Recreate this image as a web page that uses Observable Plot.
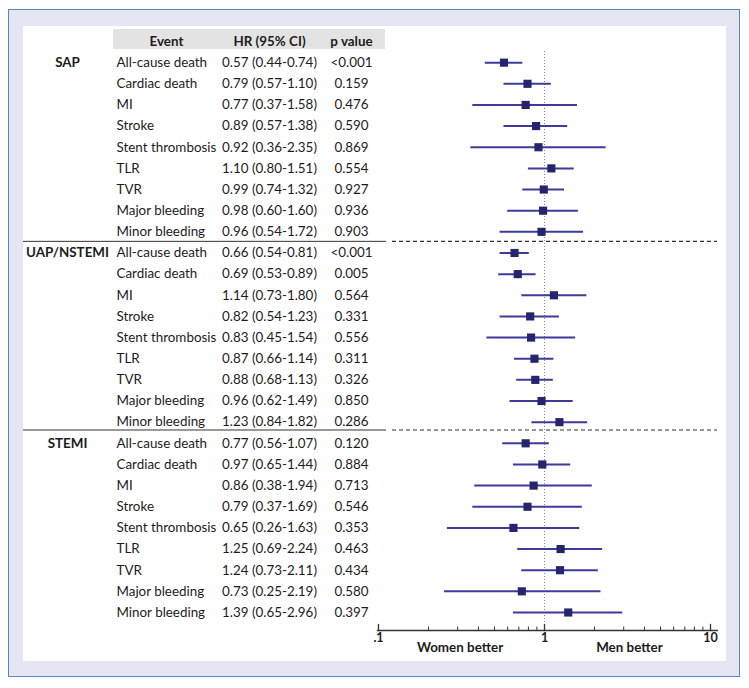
<!DOCTYPE html>
<html>
<head>
<meta charset="utf-8">
<script src="https://cdn.jsdelivr.net/npm/d3@7"></script>
<script src="https://cdn.jsdelivr.net/npm/@observablehq/plot@0.6"></script>
<style>
  body { margin: 0; background: #fff; }
  #wrap { position: relative; width: 749px; height: 688px; overflow: hidden; font-family: Lato, "Open Sans", sans-serif; }
  #outer { position: absolute; left: 8px; top: 9px; width: 730px; height: 666px; background: #e4e7f3; border: 1.5px solid #5a86c8; }
  #inner { position: absolute; left: 23px; top: 26px; width: 703px; height: 635px; background: #fff; }
  #head { position: absolute; left: 113px; top: 29px; width: 272px; height: 20px; background: #e3e3e3; }
  #wrap svg { position: absolute; left: 0; top: 0; }
</style>
</head>
<body>
<div id="wrap">
  <div id="outer"></div>
  <div id="inner"></div>
  <div id="head"></div>
</div>
<script>
const groups = ["SAP", "UAP/NSTEMI", "STEMI"];
const events = ["All-cause death", "Cardiac death", "MI", "Stroke", "Stent thrombosis", "TLR", "TVR", "Major bleeding", "Minor bleeding"];
const headers = ["Event", "HR (95% CI)", "p value"];

const hrSAP   = [0.57, 0.79, 0.77, 0.89, 0.92, 1.10, 0.99, 0.98, 0.96];
const lowSAP  = [0.44, 0.57, 0.37, 0.57, 0.36, 0.80, 0.74, 0.60, 0.54];
const highSAP = [0.74, 1.10, 1.58, 1.38, 2.35, 1.51, 1.32, 1.60, 1.72];
const pSAP    = ["<0.001", "0.159", "0.476", "0.590", "0.869", "0.554", "0.927", "0.936", "0.903"];

const hrUAP   = [0.66, 0.69, 1.14, 0.82, 0.83, 0.87, 0.88, 0.96, 1.23];
const lowUAP  = [0.54, 0.53, 0.73, 0.54, 0.45, 0.66, 0.68, 0.62, 0.84];
const highUAP = [0.81, 0.89, 1.80, 1.23, 1.54, 1.14, 1.13, 1.49, 1.82];
const pUAP    = ["<0.001", "0.005", "0.564", "0.331", "0.556", "0.311", "0.326", "0.850", "0.286"];

const hrSTEMI   = [0.77, 0.97, 0.86, 0.79, 0.65, 1.25, 1.24, 0.73, 1.39];
const lowSTEMI  = [0.56, 0.65, 0.38, 0.37, 0.26, 0.69, 0.73, 0.25, 0.65];
const highSTEMI = [1.07, 1.44, 1.94, 1.69, 1.63, 2.24, 2.11, 2.19, 2.96];
const pSTEMI    = ["0.120", "0.884", "0.713", "0.546", "0.353", "0.463", "0.434", "0.580", "0.397"];

const majorTicks = [0.1, 1, 10];
const minorTicks = [0.2, 0.3, 0.4, 0.5, 0.6, 0.7, 0.8, 0.9, 2, 3, 4, 5, 6, 7, 8, 9];
const sideLabels = ["Women better", "Men better"];

const series = [
  [hrSAP, lowSAP, highSAP, pSAP],
  [hrUAP, lowUAP, highUAP, pUAP],
  [hrSTEMI, lowSTEMI, highSTEMI, pSTEMI]
];
const rows = groups.flatMap((g, gi) => events.map((e, ei) => {
  const [hr, lo, hi, p] = series[gi];
  return {
    group: g, event: e, hr: hr[ei], lo: lo[ei], hi: hi[ei], p: p[ei],
    row: gi * events.length + ei, first: ei === 0,
    ci: `${hr[ei].toFixed(2)} (${lo[ei].toFixed(2)}-${hi[ei].toFixed(2)})`
  };
}));
const seps = [8.45, 17.37];

const font = "Lato, 'Open Sans', sans-serif";
const ink = "#1c1c1c";
const yScale = {domain: [-1, 26], range: [41, 612], axis: null};

// table columns: placed from the frame's left edge (layout, not data)
const col = {group: 67, event: 116, eventHead: 166, ci: 269, p: 351};
const headCols = [col.eventHead, col.ci, col.p];

const table = Plot.plot({
  width: 749, height: 688,
  marginLeft: 0, marginRight: 363, marginTop: 0, marginBottom: 0,
  y: yScale,
  style: {background: "transparent", fontFamily: font, fontSize: "13.4px", color: ink},
  marks: [
    ...headers.map((h, i) => Plot.text([h], {y: () => -1, text: d => d, frameAnchor: "left", dx: headCols[i], textAnchor: "middle", fontWeight: "bold", fill: ink})),
    Plot.text(rows.filter(d => d.first), {y: "row", text: "group", frameAnchor: "left", dx: col.group, textAnchor: "middle", fontWeight: "bold", fill: ink}),
    Plot.text(rows, {y: "row", text: "event", frameAnchor: "left", dx: col.event, textAnchor: "start", fill: ink}),
    Plot.text(rows, {y: "row", text: "ci", frameAnchor: "left", dx: col.ci, textAnchor: "middle", fill: ink}),
    Plot.text(rows, {y: "row", text: "p", frameAnchor: "left", dx: col.p, textAnchor: "middle", fill: ink}),
    Plot.ruleY(seps, {stroke: "#333", strokeWidth: 1, insetLeft: 23})
  ]
});

const tickShape = {draw(context, l) { context.moveTo(0, 0); context.lineTo(0, -l); }};

const forest = Plot.plot({
  width: 749, height: 688,
  marginLeft: 377, marginRight: 32, marginTop: 51, marginBottom: 58,
  x: {type: "log", domain: [0.1, 10], range: [378, 710], axis: null, label: null},
  y: yScale,
  style: {background: "transparent", fontFamily: font, fontSize: "12.5px", color: ink},
  marks: [
    Plot.ruleX([1], {stroke: "#8482b4", strokeWidth: 1, strokeDasharray: "1,2"}),
    Plot.ruleY(seps, {stroke: "#333", strokeWidth: 1.2, strokeDasharray: "4,3", insetLeft: 15}),
    Plot.ruleY(rows, {y: "row", x1: "lo", x2: "hi", stroke: "#3d3a9c", strokeWidth: 2}),
    Plot.dot(rows, {x: "hr", y: "row", symbol: "square", r: 4.6, fill: "#26236f", stroke: "none"}),
    Plot.frame({anchor: "bottom", stroke: "#333", strokeWidth: 1.3}),
    Plot.vector(majorTicks, {x: d => d, frameAnchor: "bottom", length: 6, anchor: "start", shape: tickShape, stroke: "#333", strokeWidth: 1.3}),
    Plot.vector(minorTicks, {x: d => d, frameAnchor: "bottom", length: 3.5, anchor: "start", shape: tickShape, stroke: "#333", strokeWidth: 1}),
    Plot.axisX({ticks: majorTicks, tickSize: 0, tickPadding: 3, tickFormat: d => d === 0.1 ? ".1" : String(d), label: null, fontWeight: "bold", fill: ink}),
    Plot.text(sideLabels, {x: (d, i) => [0.31, 3.25][i], frameAnchor: "bottom", dy: 21, text: d => d, fontWeight: "bold", fontSize: 13.4, fill: ink})
  ]
});

document.getElementById("wrap").append(table, forest);
</script>
</body>
</html>
